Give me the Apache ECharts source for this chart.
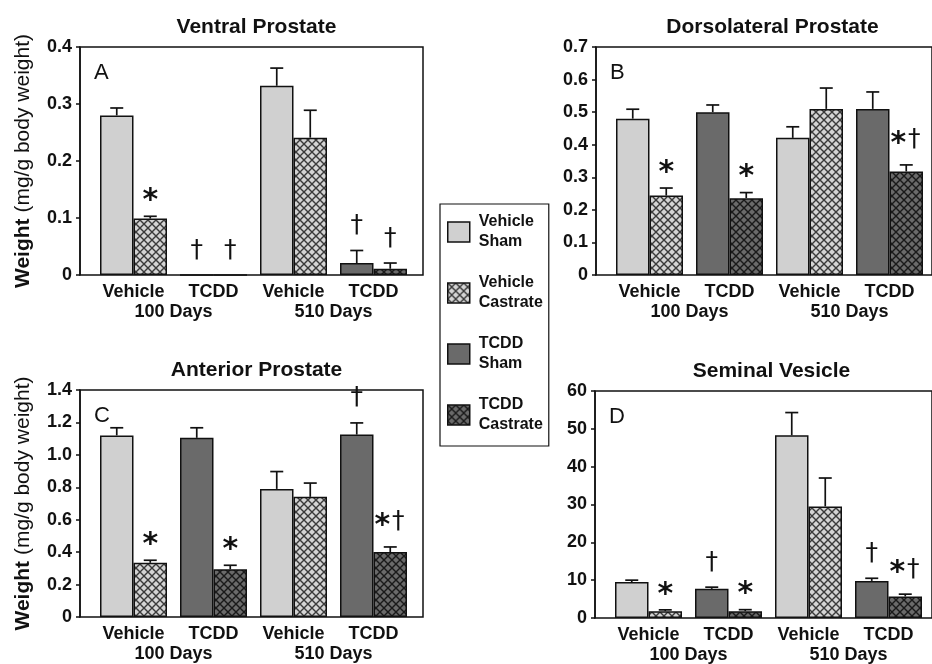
<!DOCTYPE html>
<html><head><meta charset="utf-8">
<script src="https://cdn.jsdelivr.net/npm/echarts@6/dist/echarts.min.js"></script>
<style>html,body{margin:0;padding:0;background:#fff}#c{width:932px;height:664px}</style>
</head><body><div id="c"></div>
<script>
// ---------------- data ----------------
var categories = ['Vehicle', 'TCDD', 'Vehicle', 'TCDD'];
var dayLabels = ['100 Days', '510 Days'];
var seriesNames = ['Vehicle Sham', 'Vehicle Castrate', 'TCDD Sham', 'TCDD Castrate'];
var panelTitles = ['Ventral Prostate', 'Dorsolateral Prostate', 'Anterior Prostate', 'Seminal Vesicle'];
var panelLetters = ['A', 'B', 'C', 'D'];
var yMax = [0.4, 0.7, 1.4, 60];
var yStep = [0.1, 0.1, 0.2, 10];

// Panel A: Ventral Prostate
var aShamMean = [0.28, 0, 0.332, 0.021];
var aShamSem  = [0.013, 0, 0.031, 0.022];
var aCastMean = [0.099, 0, 0.241, 0.011];
var aCastSem  = [0.004, 0, 0.048, 0.010];
var aShamMark = ['', '\u2020', '', '\u2020'];
var aCastMark = ['*', '\u2020', '', '\u2020'];

// Panel B: Dorsolateral Prostate
var bShamMean = [0.48, 0.50, 0.421, 0.51];
var bShamSem  = [0.029, 0.022, 0.034, 0.052];
var bCastMean = [0.244, 0.236, 0.51, 0.318];
var bCastSem  = [0.023, 0.017, 0.064, 0.020];
var bShamMark = ['', '', '', ''];
var bCastMark = ['*', '*', '', '*\u2020'];

// Panel C: Anterior Prostate
var cShamMean = [1.12, 1.105, 0.79, 1.125];
var cShamSem  = [0.047, 0.062, 0.107, 0.072];
var cCastMean = [0.334, 0.294, 0.741, 0.401];
var cCastSem  = [0.016, 0.025, 0.085, 0.031];
var cShamMark = ['', '', '', '\u2020'];
var cCastMark = ['*', '*', '', '*\u2020'];

// Panel D: Seminal Vesicle
var dShamMean = [9.5, 7.7, 48.3, 9.8];
var dShamSem  = [0.5, 0.45, 6.0, 0.7];
var dCastMean = [1.8, 1.8, 29.5, 5.7];
var dCastSem  = [0.35, 0.4, 7.5, 0.6];
var dShamMark = ['', '\u2020', '', '\u2020'];
var dCastMark = ['*', '*', '', '*\u2020'];

var panelData = [
  [aShamMean, aShamSem, aCastMean, aCastSem, aShamMark, aCastMark],
  [bShamMean, bShamSem, bCastMean, bCastSem, bShamMark, bCastMark],
  [cShamMean, cShamSem, cCastMean, cCastSem, cShamMark, cCastMark],
  [dShamMean, dShamSem, dCastMean, dCastSem, dShamMark, dCastMark]
];

// ---------------- layout / style ----------------
var FONT = '"Liberation Sans", Arial, sans-serif';
var INK = '#111';
var PANELS = [
  {left: 80,  top: 47,  height: 228},
  {left: 596, top: 47,  height: 228},
  {left: 80,  top: 390, height: 227},
  {left: 595, top: 391, height: 227}
];
var FRAME_W = 343, BAR_OFF = 13.5, BAR_GRID_W = 320, BW = 33.5, CAP = 6.5;

function hatch(bg, line) {
  var n = 8;
  var c = document.createElement('canvas');
  c.width = n; c.height = n;
  var g = c.getContext('2d');
  g.fillStyle = bg; g.fillRect(0, 0, n, n);
  g.strokeStyle = line; g.lineWidth = 1.4;
  g.beginPath();
  g.moveTo(-1, -1); g.lineTo(n + 1, n + 1);
  g.moveTo(n + 1, -1); g.lineTo(-1, n + 1);
  g.stroke();
  return {image: c, repeat: 'repeat'};
}
var LIGHT = '#d0d0d0', DARK = '#6a6a6a';
var fills = [LIGHT, hatch('#d4d4d4', '#3a3a3a'), DARK, hatch('#6a6a6a', '#1a1a1a')];

function fmtTick(p) {
  return function (v) {
    if (v === 0) return '0';
    return p === 3 ? String(v) : v.toFixed(1);
  };
}

function makeRender(marks) {
  return function (params, api) {
    var cat = api.value(0), mean = api.value(1), sem = api.value(2), slot = api.value(3);
    var base = api.coord([cat, mean]);
    var top = api.coord([cat, mean + sem]);
    var x = base[0] + (slot ? BW / 2 : -BW / 2);
    var ls = {stroke: INK, lineWidth: 1.7};
    var ch = [];
    if (sem > 0) {
      ch.push({type: 'line', shape: {x1: x, y1: base[1], x2: x, y2: top[1]}, style: ls});
      ch.push({type: 'line', shape: {x1: x - CAP, y1: top[1], x2: x + CAP, y2: top[1]}, style: ls});
    }
    var m = marks[params.dataIndex] || '';
    var hasA = m.indexOf('*') >= 0, hasD = m.indexOf('\u2020') >= 0;
    var both = hasA && hasD;
    if (hasA) {
      ch.push({type: 'text', x: x + (both ? -8 : 0), y: top[1] - (both ? 21 : 15),
        style: {text: '*', font: 'bold 30px "DejaVu Sans"', fill: INK,
          textAlign: 'center', align: 'center', textVerticalAlign: 'middle', verticalAlign: 'middle'}});
    }
    if (hasD) {
      ch.push({type: 'text', x: x + (both ? 8 : 0), y: top[1] - 25,
        style: {text: '\u2020', font: '25px "DejaVu Sans"', fill: INK,
          textAlign: 'center', align: 'center', textVerticalAlign: 'middle', verticalAlign: 'middle'}});
    }
    return {type: 'group', children: ch};
  };
}

var grids = [], xAxes = [], yAxes = [], series = [], titles = [];
PANELS.forEach(function (P, p) {
  var d = panelData[p];
  grids.push({left: P.left, top: P.top, width: FRAME_W, height: P.height, show: true,
    borderColor: INK, borderWidth: 1.5, backgroundColor: 'transparent'});
  grids.push({left: P.left + BAR_OFF, top: P.top, width: BAR_GRID_W, height: P.height});

  xAxes.push({gridIndex: 2 * p, type: 'value', min: 0, max: 1, show: false});
  xAxes.push({gridIndex: 2 * p + 1, type: 'category', data: categories, position: 'bottom',
    axisLine: {show: false}, axisTick: {show: false}, splitLine: {show: false},
    axisLabel: {margin: 8, fontSize: 18, fontWeight: 'bold', color: INK, fontFamily: FONT, interval: 0}});
  xAxes.push({gridIndex: 2 * p + 1, type: 'category', data: dayLabels, position: 'bottom',
    axisLine: {show: false}, axisTick: {show: false}, splitLine: {show: false},
    axisLabel: {margin: 28, fontSize: 18, fontWeight: 'bold', color: INK, fontFamily: FONT, interval: 0}});

  var yf = {gridIndex: 2 * p, type: 'value', min: 0, max: yMax[p], interval: yStep[p],
    axisLine: {show: true, lineStyle: {color: INK, width: 1.5}},
    axisTick: {show: true, length: 4, lineStyle: {color: INK, width: 1.5}},
    splitLine: {show: false},
    axisLabel: {margin: 8, fontSize: 18, fontWeight: 'bold', color: INK, fontFamily: FONT, formatter: fmtTick(p)}};
  if (p === 0 || p === 2) {
    yf.name = '{b|Weight} (mg/g body weight)';
    yf.nameLocation = 'middle';
    yf.nameGap = 46;
    yf.nameTextStyle = {fontSize: 21, color: INK, fontFamily: FONT,
      rich: {b: {fontSize: 21, fontWeight: 'bold', color: INK, fontFamily: FONT}}};
  }
  yAxes.push(yf);
  yAxes.push({gridIndex: 2 * p + 1, type: 'value', min: 0, max: yMax[p], show: false});

  var shamMean = d[0], shamSem = d[1], castMean = d[2], castSem = d[3];
  var isVeh = function (i) { return categories[i] === 'Vehicle'; };
  var sets = [
    shamMean.map(function (v, i) { return isVeh(i) ? v : '-'; }),
    castMean.map(function (v, i) { return isVeh(i) ? v : '-'; }),
    shamMean.map(function (v, i) { return !isVeh(i) ? v : '-'; }),
    castMean.map(function (v, i) { return !isVeh(i) ? v : '-'; })
  ];
  sets.forEach(function (vals, s) {
    series.push({name: seriesNames[s], type: 'bar', xAxisIndex: 3 * p + 1, yAxisIndex: 2 * p + 1,
      stack: 'p' + p + (s % 2 ? 'c' : 's'), barWidth: BW, barGap: '0%', data: vals,
      itemStyle: {color: fills[s], borderColor: INK, borderWidth: 1.5}, silent: true});
  });

  var errData = [], marks = [];
  categories.forEach(function (c, i) {
    errData.push([i, shamMean[i], shamSem[i], 0]); marks.push(d[4][i]);
    errData.push([i, castMean[i], castSem[i], 1]); marks.push(d[5][i]);
  });
  series.push({type: 'custom', xAxisIndex: 3 * p + 1, yAxisIndex: 2 * p + 1,
    renderItem: makeRender(marks), data: errData, encode: {x: 0, y: 1}, z: 5, silent: true});

  titles.push({text: panelTitles[p], left: P.left + FRAME_W / 2, top: P.top - 35, textAlign: 'center',
    textStyle: {fontSize: 21, fontWeight: 'bold', color: INK, fontFamily: FONT}});
  titles.push({text: panelLetters[p], left: P.left + 9, top: P.top + 10,
    textStyle: {fontSize: 22, fontWeight: 'normal', color: INK, fontFamily: FONT}});
});

var chart = echarts.init(document.getElementById('c'), null, {renderer: 'canvas'});
chart.setOption({
  animation: false,
  backgroundColor: '#fff',
  title: titles,
  legend: {orient: 'vertical', left: 440, top: 204, data: seriesNames, icon: 'rect',
    itemWidth: 22, itemHeight: 20, itemGap: 21, padding: [8, 6, 11, 7],
    borderColor: INK, borderWidth: 1.2, selectedMode: false,
    formatter: function (n) { return n.replace(' ', '\n'); },
    itemStyle: {borderColor: INK, borderWidth: 1.5},
    textStyle: {fontSize: 16, fontWeight: 'bold', lineHeight: 20, color: INK, fontFamily: FONT, padding: [0, 0, 0, 4]}},
  grid: grids,
  xAxis: xAxes,
  yAxis: yAxes,
  series: series
});
</script>
</body></html>
